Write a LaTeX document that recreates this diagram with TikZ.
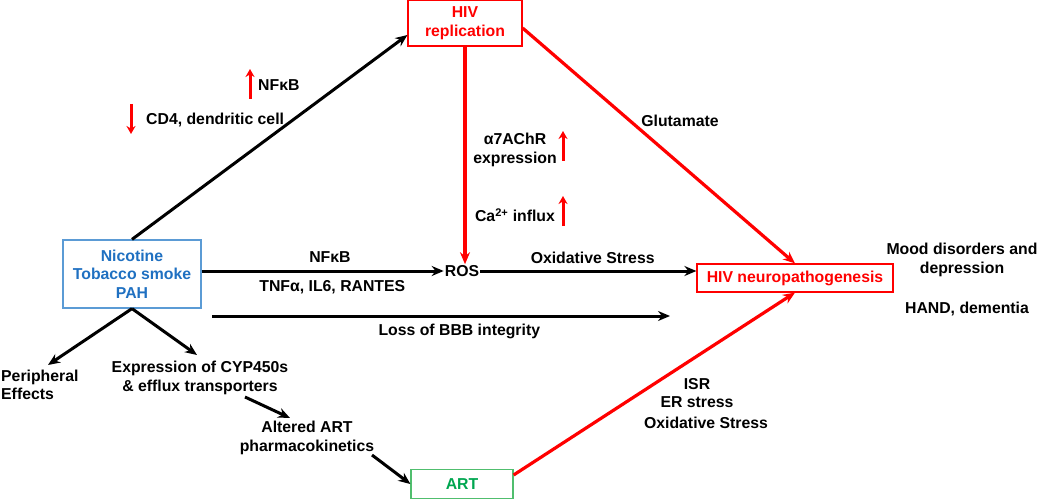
\documentclass[tikz,border=0pt]{standalone}
\usepackage{fontspec}
\setmainfont{Liberation Sans}
\usepackage{tikz}
\usetikzlibrary{positioning,arrows.meta}

\definecolor{hivred}{RGB}{255,0,0}
\definecolor{nicblue}{RGB}{31,112,193}
\definecolor{nicframe}{RGB}{91,155,213}
\definecolor{artgreen}{RGB}{0,166,80}
\definecolor{artframe}{RGB}{80,190,110}

\begin{document}
\begin{tikzpicture}[x=1pt,y=-1pt,
  font=\fontsize{15.8}{18.5}\selectfont\bfseries,
  box/.style={draw,line width=1.2pt,align=center,inner sep=2pt},
  txt/.style={align=center,inner sep=1pt},
  blk/.style={line width=3pt,-{Stealth[length=12pt,width=10pt]}},
  rd/.style={line width=3.2pt,hivred,-{Stealth[length=12pt,width=10pt]}},
  up/.style={line width=3pt,hivred,-{Stealth[length=8pt,width=9pt]}}]

  \useasboundingbox (0,0) rectangle (1050,500);

  % boxes
  \node[box,hivred,text=hivred,minimum width=114pt,minimum height=46pt] (rep) at (465,23) {HIV\\replication};
  \node[box,draw=nicframe,text=nicblue,minimum width=138pt,minimum height=68pt] (nic) at (132,274) {Nicotine\\Tobacco smoke\\PAH};
  \node[box,hivred,text=hivred,minimum width=196pt,minimum height=28pt] (neuro) at (795,278) {HIV neuropathogenesis};
  \node[box,draw=artframe,text=artgreen,minimum width=102pt,minimum height=29pt] (art) at (462,484) {ART};
  \node[txt] (ros) at (462,271) {ROS};

  % plain labels
  \node[txt] (periph) at (0,385) [anchor=west,align=left] {Peripheral\\Effects};
  \node[txt] (cyp) at (200,378) {Expression of CYP450s\\\& efflux transporters};
  \node[txt] (pk) at (307,438) {Altered ART\\pharmacokinetics};
  \node[txt] (mood) at (962,260) {Mood disorders and\\depression};
  \node[txt] (hand) at (967,309) {HAND, dementia};
  \node[txt] (glu) at (680,121) {Glutamate};
  \node[txt] (a7) at (515,150) {α7AChR\\expression};
  \node[txt] (ca) at (515,215) {Ca\textsuperscript{2+} influx};
  \node[txt] (isr) at (697,393) {ISR\\ER stress};
  \node[txt] (oxs) at (706,423) {Oxidative Stress};

  % arrows to ROS, neuro
  \coordinate (bbbstart) at (212,316);
  \coordinate (bbbend) at (670,316);
  \draw[blk] (nic.north) -- (rep.south west |- 0,35);
  \draw[blk] (nic.east |- ros) -- (ros.west) node[pos=0.53,above=4pt] {NFκB}
    node[pos=0.54,below=5pt] {TNFα, IL6, RANTES};
  \draw[blk] (bbbstart) -- (bbbend) node[pos=0.54,below=3pt] {Loss of BBB integrity};
  \draw[blk] (ros.east) -- (neuro.west |- ros) node[pos=0.52,above=3pt] {Oxidative Stress};
  \draw[rd] (rep.south) -- (rep.south |- ros.north);
  \draw[rd] (rep.east |- 0,28) -- (neuro.north);
  \draw[rd] (art.east |- 0,475) -- (neuro.south);

  % arrows below nicotine
  \draw[blk] (nic.south) -- (48,365);
  \draw[blk] (nic.south) -- (197,355);
  \draw[blk] (245,397) -- (290,418);
  \draw[blk] (372,455) -- (art.west);

  % up / down markers
  \node[txt,anchor=west] (nfkb) at (257,85) {NFκB};
  \draw[up] (250,99) -- (250,69);
  \node[txt,anchor=west] (cd4) at (145,120) {CD4, dendritic cell};
  \draw[up] (131,104) -- (131,134);
  \draw[up] (563,161) -- (563,131);
  \draw[up] (563,226) -- (563,196);
\end{tikzpicture}
\end{document}
